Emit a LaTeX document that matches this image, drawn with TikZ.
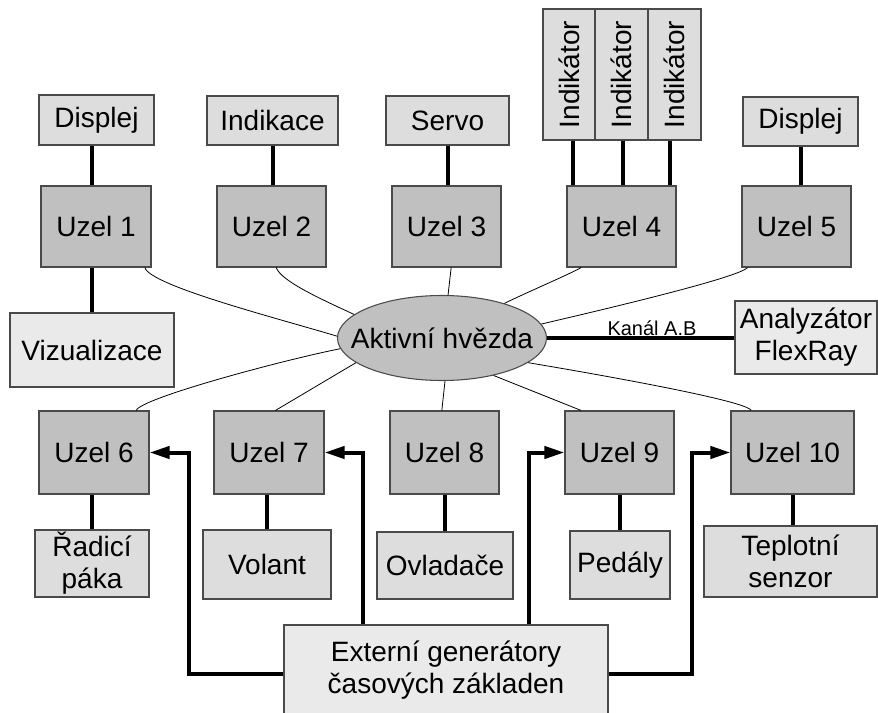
\documentclass[tikz,border=0pt]{standalone}
\usepackage{fontspec}
\setmainfont{Liberation Sans}
\usetikzlibrary{shapes.geometric,arrows.meta}
\definecolor{bordergray}{HTML}{4A4A4A}
\definecolor{uzelgray}{HTML}{C0C0C0}
\definecolor{smallgray}{HTML}{DDDDDD}
\definecolor{biggray}{HTML}{EAEAEA}
\begin{document}
\begin{tikzpicture}[x=0.75pt,y=-0.75pt,
  box/.style={draw=bordergray, line width=0.8pt, inner sep=0pt, align=center,
    font=\fontsize{21}{24}\selectfont},
  sz/.style 2 args={minimum width=#1*0.75pt, minimum height=#2*0.75pt},
  uzel/.style={box, fill=uzelgray},
  smallbox/.style={box, fill=smallgray},
  bigbox/.style={box, fill=biggray},
  link/.style={line width=3pt},
  bus/.style={line width=0.6pt},
  arr/.style={line width=3pt, -{Triangle[length=15pt,width=9pt]}}]
\useasboundingbox (0,0) rectangle (878,713);
\fill[white] (0,0) rectangle (878,713);

% top devices
\node[smallbox, sz={115}{50}] (d1) at (96.5,120) {Displej};
\node[smallbox, sz={131}{49}] (ind) at (272.5,120.5) {Indikace};
\node[smallbox, sz={123}{49}] (servo) at (447.5,120.5) {Servo};
\node[smallbox, sz={52}{131}] (ia) at (569,74.5) {\rotatebox{90}{Indikátor}};
\node[smallbox, sz={53}{131}] (ib) at (621.5,74.5) {\rotatebox{90}{Indikátor}};
\node[smallbox, sz={53}{131}] (ic) at (674.5,74.5) {\rotatebox{90}{Indikátor}};
\node[smallbox, sz={115}{49}] (d5) at (800.5,121.5) {Displej};

% top nodes
\node[uzel, sz={110}{81}] (u1) at (96,226.5) {Uzel 1};
\node[uzel, sz={109}{81}] (u2) at (271.5,226.5) {Uzel 2};
\node[uzel, sz={109}{81}] (u3) at (446.5,226.5) {Uzel 3};
\node[uzel, sz={109}{81}] (u4) at (621.5,226.5) {Uzel 4};
\node[uzel, sz={109}{81}] (u5) at (796.5,226.5) {Uzel 5};

% middle
\node[bigbox, sz={164}{74}] (viz) at (92,350) {Vizualizace};
\node[bigbox, sz={142}{73}] (an) at (806,337.5) {Analyzátor\\FlexRay};
\node[draw=bordergray, line width=0.8pt, fill=uzelgray, ellipse,
  inner xsep=-14pt, inner ysep=0pt,
  minimum width=156.75pt, minimum height=63.75pt,
  font=\fontsize{21}{24}\selectfont] (el) at (442,338) {Aktivní hvězda};

% bottom nodes
\node[uzel, sz={110}{83}] (u6) at (94,452.5) {Uzel 6};
\node[uzel, sz={110}{83}] (u7) at (269,452.5) {Uzel 7};
\node[uzel, sz={109}{83}] (u8) at (444.5,452.5) {Uzel 8};
\node[uzel, sz={109}{83}] (u9) at (619.5,452.5) {Uzel 9};
\node[uzel, sz={123}{83}] (u10) at (792.5,452.5) {Uzel 10};

% bottom devices
\node[smallbox, sz={114}{67}] (rp) at (92,563.5) {Řadicí\\páka};
\node[smallbox, sz={128}{69}] (vol) at (267,564.5) {Volant};
\node[smallbox, sz={136}{67}] (ovl) at (445,565.5) {Ovladače};
\node[smallbox, sz={100}{68}] (ped) at (620,565) {Pedály};
\node[smallbox, sz={173}{71}] (tep) at (790.5,561.5) {Teplotní\\senzor};
\node[bigbox, sz={324}{90}] (ext) at (446,670) {Externí generátory\\časových základen};

% thick links
\draw[link] (viz.north |- d1.south) -- (viz.north |- u1.north);
\draw[link] (ind.south) -- (ind.south |- u2.north);
\draw[link] (servo.south) -- (servo.south |- u3.north);
\draw[link] ([xshift=3pt]ia.south) -- ([xshift=3pt]ia.south |- u4.north);
\draw[link] ([xshift=1pt]ib.south) -- ([xshift=1pt]ib.south |- u4.north);
\draw[link] ([xshift=-3.6pt]ic.south) -- ([xshift=-3.6pt]ic.south |- u4.north);
\draw[link] (d5.south) -- (d5.south |- u5.north);
\draw[link] (viz.north |- u1.south) -- (viz.north);
\draw[link] (rp.north |- u6.south) -- (rp.north);
\draw[link] (vol.north |- u7.south) -- (vol.north);
\draw[link] (u8.south) -- (u8.south |- ovl.north);
\draw[link] (u9.south) -- (u9.south |- ped.north);
\draw[link] (u10.south) -- (u10.south |- tep.north);
\draw[link] (el.east) -- (an.west |- el.east)
  node[pos=0.56, above, inner sep=0.5pt, font=\fontsize{15}{18}\selectfont] {Kanál A.B};

% star bus lines
\draw[bus] ([xshift=-5pt]u1.south east) .. controls +(5,18) and +(-60,-18) .. (el.179);
\draw[bus] ([xshift=3.5pt]u2.south) .. controls +(5,14) and +(-30,-14) .. (el.165);
\draw[bus] ([xshift=3.5pt]u3.south) -- (el.82);
\draw[bus] ([xshift=11pt]u4.south west) .. controls +(-10,6) and +(20,-10) .. (el.29.5);
\draw[bus] ([xshift=4.5pt]u5.south west) .. controls +(-8,10) and +(60,-14) .. (el.8.3);
\draw[bus] ([xshift=-10pt]u6.north east) .. controls +(4,-12) and +(-60,12) .. (el.186);
\draw[bus] ([xshift=4.8pt]u7.north) -- (el.196);
\draw[bus] ([xshift=-2pt]u8.north) -- (el.274);
\draw[bus] ([xshift=12.5pt]u9.north west) -- (el.324);
\draw[bus] ([xshift=15.5pt]u10.north west) .. controls +(-4,-10) and +(60,10) .. (el.344.6);

% timing arrows
\coordinate (k6) at (188.7,673.7);
\coordinate (k7) at (363,453);
\coordinate (k9) at (529.3,453);
\coordinate (k10) at (691.7,673.7);
\draw[arr] (ext.west |- k6) -- (k6) |- (u6.east);
\draw[arr] (ext.north -| k7) |- (u7.east);
\draw[arr] (ext.north -| k9) |- (u9.west);
\draw[arr] (ext.east |- k10) -- (k10) |- (u10.west);
\end{tikzpicture}
\end{document}
